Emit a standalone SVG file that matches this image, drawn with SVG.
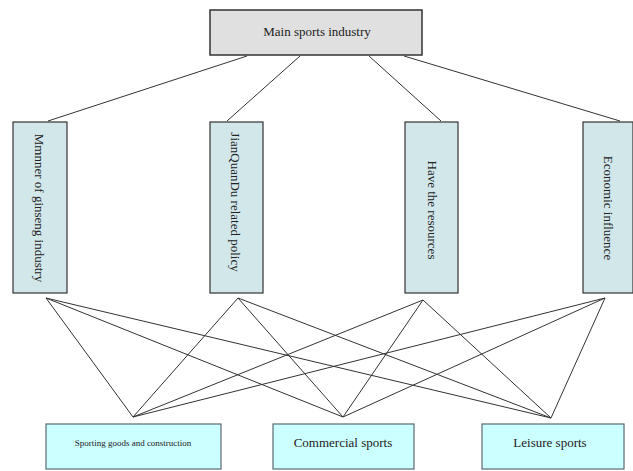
<svg xmlns="http://www.w3.org/2000/svg" width="633" height="471" viewBox="0 0 633 471">
<style>
.top{fill:#e0e0e0;stroke:#333;stroke-width:1.5}
.mid{fill:#d2e7ea;stroke:#333;stroke-width:1.2}
.bot{fill:#ccffff;stroke:#5a6a70;stroke-width:1.2}
text{font-family:"Liberation Serif","Times New Roman",serif;fill:#222;text-anchor:middle}
.c line{stroke:#333;stroke-width:1}
</style>
<rect width="633" height="471" fill="#fff"/>
<g class="c" id="connectors">
<line x1="247" y1="56" x2="48" y2="121"/>
<line x1="300" y1="56" x2="227" y2="121"/>
<line x1="369" y1="56" x2="441" y2="121"/>
<line x1="404" y1="56" x2="620" y2="121"/>
<line x1="46" y1="298" x2="133" y2="417"/>
<line x1="46" y1="298" x2="343" y2="417"/>
<line x1="46" y1="298" x2="551" y2="418"/>
<line x1="238" y1="298" x2="133" y2="417"/>
<line x1="238" y1="298" x2="343" y2="417"/>
<line x1="238" y1="298" x2="551" y2="418"/>
<line x1="423" y1="300" x2="133" y2="417"/>
<line x1="423" y1="300" x2="343" y2="417"/>
<line x1="423" y1="300" x2="551" y2="418"/>
<line x1="605" y1="298" x2="133" y2="417"/>
<line x1="605" y1="298" x2="343" y2="417"/>
<line x1="605" y1="298" x2="551" y2="418"/>
</g>
<g id="main">
<rect class="top" x="210" y="10" width="212" height="45"/>
<text x="317" y="36" font-size="13">Main sports industry</text>
</g>
<g id="m1">
<rect class="mid" x="13" y="122" width="54" height="171"/>
<text transform="translate(35,208) rotate(90)" font-size="13">Mmnner of ginseng industry</text>
</g>
<g id="m2">
<rect class="mid" x="210" y="122" width="53" height="171"/>
<text transform="translate(231,202) rotate(90)" font-size="13">JianQuanDu related policy</text>
</g>
<g id="m3">
<rect class="mid" x="405" y="122" width="53" height="171"/>
<text transform="translate(428,210) rotate(90)" font-size="13">Have the resources</text>
</g>
<g id="m4">
<rect class="mid" x="583" y="122" width="50" height="171"/>
<text transform="translate(604,208) rotate(90)" font-size="13">Economic influence</text>
</g>
<g id="b1">
<rect class="bot" x="46" y="424" width="175" height="45"/>
<text x="133" y="446" font-size="9">Sporting goods and construction</text>
</g>
<g id="b2">
<rect class="bot" x="273" y="424" width="141" height="45"/>
<text x="343" y="447" font-size="13">Commercial sports</text>
</g>
<g id="b3">
<rect class="bot" x="482" y="424" width="142" height="45"/>
<text x="550" y="447" font-size="13">Leisure sports</text>
</g>
</svg>
